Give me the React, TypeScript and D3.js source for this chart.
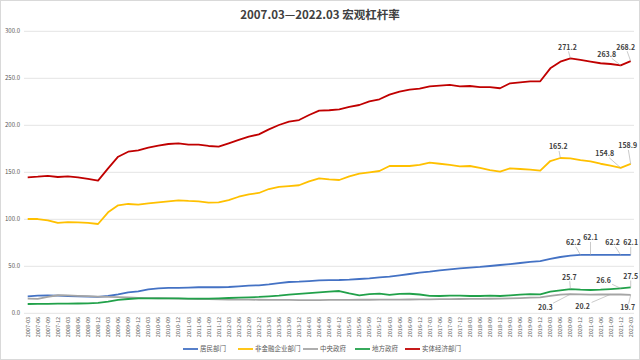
import React from "react";
import * as d3 from "d3";

const categories = [
  "2007-03","2007-06","2007-09","2007-12","2008-03","2008-06","2008-09","2008-12",
  "2009-03","2009-06","2009-09","2009-12","2010-03","2010-06","2010-09","2010-12",
  "2011-03","2011-06","2011-09","2011-12","2012-03","2012-06","2012-09","2012-12",
  "2013-03","2013-06","2013-09","2013-12","2014-03","2014-06","2014-09","2014-12",
  "2015-03","2015-06","2015-09","2015-12","2016-03","2016-06","2016-09","2016-12",
  "2017-03","2017-06","2017-09","2017-12","2018-03","2018-06","2018-09","2018-12",
  "2019-03","2019-06","2019-09","2019-12","2020-03","2020-06","2020-09","2020-12",
  "2021-03","2021-06","2021-09","2021-12","2022-03",
];

const household = [18.1,18.8,19.1,18.8,18.4,18.1,17.7,17.4,18.4,20.2,22.3,23.4,25.5,26.6,27.0,27.0,27.3,27.7,27.7,27.7,28.0,28.7,29.4,29.8,30.8,32.2,33.3,33.6,34.3,35.0,35.3,35.4,35.8,36.5,37.2,38.3,39.0,40.4,41.8,43.2,44.3,45.7,46.8,47.9,48.6,49.3,50.3,51.4,52.4,53.5,54.6,55.6,57.8,59.9,61.3,62.2,62.1,62.2,62.2,62.2,62.1];
const nonFinCorp = [100.3,100.3,98.9,96.1,97.1,96.8,96.1,95.0,107.4,114.9,116.3,115.6,117.0,118.1,119.1,120.2,119.5,119.1,117.7,118.1,120.5,124.0,126.6,128.0,132.2,134.4,135.4,136.2,140.4,143.6,142.4,141.8,145.7,148.5,150.0,151.4,156.7,156.7,156.7,157.8,160.2,159.1,157.8,156.4,156.7,154.6,152.4,150.7,154.2,153.5,152.8,151.7,162.0,165.2,164.9,163.0,161.7,159.1,157.0,154.8,158.9];
const centralGov = [15.6,15.4,17.5,19.2,19.0,18.6,18.2,17.8,17.5,17.2,16.8,16.5,16.2,16.0,15.8,15.6,15.4,15.2,15.0,14.8,14.7,14.6,14.5,14.4,14.3,14.2,14.2,14.1,14.1,14.0,14.2,14.3,14.3,14.4,14.4,14.5,14.5,14.6,14.7,14.8,14.9,15.0,15.1,15.2,15.3,15.4,15.5,15.7,15.9,16.2,16.6,17.0,18.6,19.8,20.3,20.1,19.9,20.0,20.2,20.0,19.7];
const localGov = [9.9,10.0,10.1,10.2,10.3,10.4,10.6,11.0,12.4,14.2,15.2,15.9,15.9,15.9,15.9,15.9,15.7,15.6,15.6,15.9,16.3,16.6,17.0,17.4,18.1,18.8,19.9,20.6,21.5,22.3,23.0,23.7,21.2,19.1,20.3,21.0,19.5,20.6,20.8,20.0,18.6,18.4,18.8,18.8,18.4,18.4,18.8,18.4,19.1,19.9,20.5,20.2,23.0,24.4,25.7,25.1,24.8,25.1,25.8,26.6,27.5];
const realEconomy = [144.7,145.3,146.2,145.0,145.7,144.7,142.9,141.1,154.2,166.6,171.9,173.4,176.2,178.3,180.1,180.8,179.4,179.4,178.0,177.3,180.8,184.4,187.9,190.4,195.7,200.3,203.8,205.6,211.0,215.6,216.0,217.0,219.5,221.6,225.5,227.7,232.6,235.8,237.9,239.0,241.5,242.2,242.9,241.5,241.8,240.7,240.7,239.4,244.7,245.7,246.8,246.8,260.6,267.7,271.2,269.5,267.7,266.0,265.2,263.8,268.2];

const seriesNames = ["居民部门", "非金融企业部门", "中央政府", "地方政府", "实体经济部门"];
const seriesValues = [household, nonFinCorp, centralGov, localGov, realEconomy];
const seriesColors = ["#4472C4", "#FFC000", "#A5A5A5", "#21A14A", "#C00000"];

const yTicks = [0, 50, 100, 150, 200, 250, 300];

// annotated points: [series index, category index, label dx, label dy]
const annotations: [number, number, number, number][] = [
  [4, 54, -3, -11], [4, 59, -14, -11], [4, 60, -5, -14],
  [1, 53, -2, -11], [1, 59, -16, -14], [1, 60, -3, -18],
  [0, 55, -7, -12], [0, 56, 0, -17], [0, 59, -8, -12], [0, 60, 0, -12],
  [3, 54, -1, -12], [3, 59, -17, -8], [3, 60, 0, -11],
  [2, 54, -25, 13], [2, 58, -28, 12], [2, 60, -3, 13],
];

const W = 640, H = 360;

export default function App() {
  const x = d3.scalePoint<string>().domain(categories).range([27.7, 630.7]);
  const y = d3.scaleLinear().domain([0, 300]).range([313.3, 31.3]);
  const fmt = d3.format(".1f");
  const line = (vals: number[]) =>
    d3.line<number>().x((_, i) => x(categories[i]) as number).y((v) => y(v))(vals) as string;

  const legendX = [183, 238, 303, 355, 405];

  return (
    <svg width={W} height={H} style={{ position: "absolute", left: 0, top: 0, fontFamily: "'Noto Sans CJK SC', 'Noto Sans', sans-serif" }}>
      <rect x={0.5} y={0.5} width={W - 1} height={H - 1} fill="#fff" stroke="#D9D9D9" />
      <text x={320} y={19} textAnchor="middle" fontSize={11.5} fontWeight={700} fill="#404040">
        2007.03—2022.03 宏观杠杆率
      </text>
      {yTicks.map((t) => (
        <g key={t}>
          {t > 0 && <line x1={24} x2={634} y1={y(t)} y2={y(t)} stroke="#D9D9D9" strokeWidth={0.75} />}
          <text x={20} y={y(t)} dy="0.35em" textAnchor="end" fontSize={6} fill="#595959">{fmt(t)}</text>
        </g>
      ))}
      <line x1={24} x2={634} y1={y(0)} y2={y(0)} stroke="#D9D9D9" strokeWidth={0.75} />
      {categories.map((c) => (
        <text key={c} transform={`translate(${(x(c) as number) + 2},317) rotate(-90)`} textAnchor="end" fontSize={5.5} fill="#595959">{c}</text>
      ))}
      {seriesValues.map((vals, k) => (
        <path key={k} d={line(vals)} fill="none" stroke={seriesColors[k]} strokeWidth={1.8} strokeLinejoin="round" />
      ))}
      {annotations.map(([s, i, dx, dy], k) => {
        const px = x(categories[i]) as number;
        const py = y(seriesValues[s][i]);
        const lx = px + dx, ly = py + dy;
        const hw = 9, hh = 4;
        const vx = px - lx, vy = py - ly;
        const tt = Math.min(vx !== 0 ? hw / Math.abs(vx) : Infinity, vy !== 0 ? hh / Math.abs(vy) : Infinity, 1);
        const sx = lx + vx * tt, sy = ly + vy * tt;
        const showLeader = Math.hypot(px - sx, py - sy) > 3;
        return (
          <g key={k}>
            {showLeader && <line x1={sx} y1={sy} x2={px} y2={py} stroke="#A6A6A6" strokeWidth={0.6} />}
            <text x={lx} y={ly} dy="0.35em" textAnchor="middle" fontSize={7} fontWeight={700} fill="#404040">{fmt(seriesValues[s][i])}</text>
          </g>
        );
      })}
      {seriesNames.map((n, k) => (
        <g key={n}>
          <line x1={legendX[k]} x2={legendX[k] + 15} y1={349} y2={349} stroke={seriesColors[k]} strokeWidth={1.8} />
          <text x={legendX[k] + 17} y={349} dy="0.35em" fontSize={6.5} fill="#595959">{n}</text>
        </g>
      ))}
    </svg>
  );
}
